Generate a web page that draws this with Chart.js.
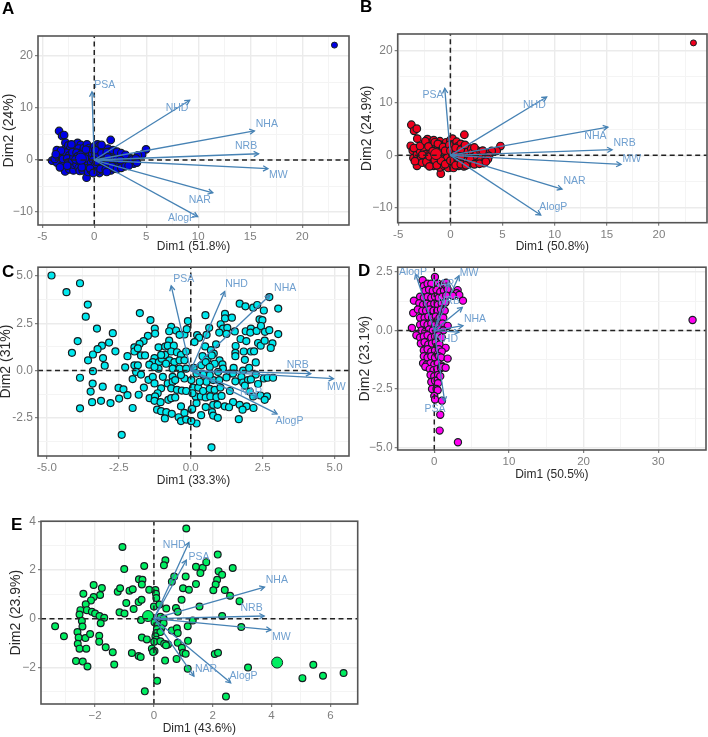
<!DOCTYPE html>
<html>
<head>
<meta charset="utf-8">
<title>PCA biplots</title>
<script src="https://cdn.jsdelivr.net/npm/chart.js@4"></script>
<style>
  html, body { margin: 0; padding: 0; background: #fff; }
  #page { position: relative; width: 708px; height: 737px; overflow: hidden; }
  canvas { position: absolute; filter: blur(0.45px); }
  .tag { position: absolute; font: bold 17px "Liberation Sans", Arial, sans-serif; color: #000; }
</style>
</head>
<body>
<div id="page"></div>
<script>
// variable names, same order as the arrow arrays of each panel
const varNames = ['PSA', 'NHD', 'NHA', 'NRB', 'MW', 'NAR', 'AlogP'];

// panel A
const aPoints = [[-3.38,5.58],[-3.09,4.62],[-2.9,4.8],[-2.77,3.33],[1.58,3.85],[-.74,-3.4],[-4.05,-.13],[4.98,2.05],[4.6,1.03],[4.2,.9],
  [-3.6,1.9],[-3.4,1.2],[-3.5,.6],[-3.3,-.2],[-3.6,-.5],[-3.1,-1],[-2.9,-1.6],[-2.8,-2.2],[-3,.2],[-2.8,2.1],[-2.5,2.8],[-2.3,2.3],[-2.7,1.4],[-2.4,.9],[-2.6,.3],[-2.5,-.5],[-2.3,-1.2],[-2.4,-1.8],[-2,-2],[-2,-.9],[-2.1,-.1],[-2,.6],[-2.1,1.5],[-1.9,2.9],[-1.6,3.3],[-1.3,2.9],[-1.5,2.2],[-1.7,1.4],[-1.6,.7],[-1.5,0],[-1.7,-.8],[-1.5,-1.5],[-1.4,-2.1],[-1.1,-2],[-1.1,-1],[-1,-.3],[-1,.8],[-1.1,1.6],[-1,2.3],[-.7,3],[-.5,2.3],[-.6,1.5],[-.6,.8],[-.7,-.1],[-.6,-.9],[-.7,-1.6],[-.6,-2.3],[-.3,-2],[-.2,-1.2],[-.3,-.4],[-.2,.5],[-.2,1.3],[-.2,2.1],[0,2.6],[.3,3],[.5,2.7],[.7,2.1],[.4,1.6],[.6,.8],[.3,.2],[.4,-.6],[.3,-1.4],[.5,-2.5],[.2,-2.2],[.8,-2],[.9,-1.2],[.9,-.4],[1,.4],[1,1.2],[1,1.9],[1.3,2.2],[1.5,1.6],[1.5,.8],[1.4,0],[1.5,-.8],[1.4,-1.5],[1.6,-2],[1.9,-1.6],[2,-.8],[1.9,-.1],[2,.7],[1.9,1.3],[2.3,1],[2.4,.3],[2.4,-.5],[2.3,-1.2],[2.7,-1],[2.8,-.3],[2.8,.5],[3.1,.7],[3.2,0],[3.2,-.7],[3.5,-.4],[3.5,.3],[3.9,-.2],[3.8,-.7],[.1,.9],[-.1,0],[.1,-.8],[1.2,-.9],[1.7,.2],[2.2,.1],
  [-3.8,.2],[-3.2,1.8],[-3.7,1.1],[-3.3,-1.4],[-2.2,3],[-2.6,-1.1],[-1.8,.1],[-1.3,1],[-1.3,-.4],[-1.2,-1.4],[-.8,2],[-.9,.3],[-.4,-1.6],[-.1,-2.5],[.1,1.9],[.2,-.3],[.7,2.9],[.7,1.3],[.6,-1.7],[1.1,-1.8],[1.2,1.5],[1.3,.5],[1.7,-1.2],[1.8,1.9],[2.2,1.6],[2.2,-1.7],[2.6,1.3],[2.6,-1.5],[3,-1.2],[3,1],[3.3,-1.1],[3.7,.1],[4,.3],[4.1,-.5],[2.5,0],[1.2,-2.3]];
const aMean = [[-1.29,.26]];
const aFar = [[23.1,22.1]];
const aArrows = [[-.22,13.1],[9.18,11.5],[15.4,5.6],[15.8,1.2],[16.7,-1.67],[11.4,-6.3],[9.95,-10.9]];
const aLabelAt = [[1,14.4],[7.96,10.06],[16.6,6.9],[14.6,2.7],[17.7,-2.95],[10.15,-7.7],[8.45,-11.2]];
const aXTicks = [-5,0,5,10,15,20];
const aYTicks = [-10,0,10,20];
const aXLabels = ['-5','0','5','10','15','20'];
const aYLabels = ['\u221210','0','10','20'];

// panel B
const bPoints = [[-3.74,5.85],[-3.48,4.7],[-3.22,5.1],[-3.17,3.2],[1.34,3.94],[-.92,-3.5],[4.8,1.78],[4.44,.85],[3.96,.85],
  [-3.8,1.83],[-3.54,-.5],[-3.2,-2],[-3.6,.9],[-3.3,1.4],[-3.2,.2],[-3.1,-1],[-2.9,.8],[-2.8,-.4],[-2.7,-1.4],[-2.5,2.1],[-2.5,1.2],[-2.4,.2],[-2.2,-.8],[-2.2,-1.7],[-2.2,3.1],[-2,2.4],[-1.9,1.2],[-1.9,.4],[-1.8,-.4],[-1.7,-1.3],[-1.6,-2],[-1.6,2.9],[-1.4,1.8],[-1.3,1],[-1.2,-.7],[-1.1,-1.5],[-1,-2.3],[-1,2.7],[-.9,2],[-.8,1],[-.8,.2],[-.7,-.5],[-.6,-1.2],[-.6,-2],[-.4,2.5],[-.4,1.4],[-.3,.5],[-.3,-.3],[-.2,-1.5],[-.2,-2.4],[0,2.9],[.2,3.2],[.2,2.1],[.3,1.1],[.2,.2],[.3,-.8],[.2,-1.7],[.3,-2.4],[.6,2.6],[.7,1.7],[.8,.8],[.7,-.2],[.8,-1.2],[.8,-2],[1,2.2],[1.2,1.4],[1.2,.4],[1.2,-.6],[1.2,-1.5],[1.3,-2.1],[1.6,1.6],[1.6,.8],[1.7,-.1],[1.6,-1],[1.7,-1.7],[2,1.3],[2.1,.5],[2.1,-.4],[2,-1.3],[2.5,1],[2.5,.2],[2.4,-.7],[2.6,-1.4],[2.9,.7],[3,-.1],[2.9,-.9],[3.2,-1.5],[3.4,.4],[3.4,-.5],[3.7,-.1],[3.6,-.7],
  [-3.5,1.4],[-3.4,-1.1],[-2.9,1.8],[-2.7,.1],[-2.4,2.7],[-2.3,-1.2],[-2.1,1.7],[-2,-.2],[-2,-2.1],[-1.7,.8],[-1.5,2.5],[-1.5,-.9],[-1.3,-1.9],[-1.2,2.2],[-1,.5],[-.9,-1],[-.7,1.6],[-.5,-1.7],[-.5,.9],[-.1,2],[0,-1],[0,.9],[.5,-1.9],[.5,.3],[.5,1.4],[1,1.1],[1,-.2],[1,-1.7],[1.4,2],[1.5,-1.9],[1.9,-.8],[2.3,-1.7],[2.3,1.5],[2.8,-1.6],[3.1,.9],[3.4,-1.2]];
const bMean = [[-1.37,.25]];
const bFar = [[23.3,21.5]];
const bArrows = [[-.54,12.8],[9.23,11.15],[15.1,5.4],[15.5,1.08],[16.36,-1.72],[10.7,-6.43],[8.66,-11.4]];
const bLabelAt = [[-1.66,11.5],[8.05,9.55],[13.9,3.76],[16.7,2.42],[17.4,-.64],[11.9,-4.97],[9.87,-9.87]];
const bXTicks = [-5,0,5,10,15,20];
const bYTicks = [-10,0,10,20];
const bXLabels = ['-5','0','5','10','15','20'];
const bYLabels = ['\u221210','0','10','20'];

// panel C
const cPoints = [[-4.84,5.03],[-3.85,4.62],[-4.32,4.15],[-3.58,3.49],[-3.65,2.85],[-3.26,2.22],[-2.71,1.98],[-3.93,1.56],[-2.84,1.48],[-3.09,1.32],[-3.24,1.13],[-3.4,.85],[-2.62,1.02],[-4.13,.94],[-3.57,.54],[-3.05,.66],[-2.99,.26],[-2.2,.76],[-2.28,.17],[-3.4,-.03],[-3.85,-.38],[-3.41,-.69],[-3.06,-.85],[-3.48,-1.11],[-3.43,-1.67],[-3.12,-1.6],[-2.79,-1.72],[-3.85,-2],[-2.51,-.92],[-2.34,-.99],[-2.2,-1.3],[-2.49,-1.48],[-2.02,-1.98],[-2.4,-3.4],[-1.77,3.04],[-1.4,2.67],[-1.25,2.22],[-1.24,1.96],[-.68,2.31],[-.75,2.08],[-.51,2.12],[-.22,1.91],[-.39,1.89],[-.1,2.62],[-.14,2.19],[-1.49,1.84],[-1.64,1.56],[-1.78,1.41],[-1.96,1.23],[-1.96,1.01],[-1.84,1.18],[-1.73,.8],[-1.59,.8],[-1.96,.28],[-1.84,.28],[-1.12,1.23],[-.89,1.27],[-.75,1.58],[-.8,1.32],[-.59,1.32],[-1.26,.66],[-1.32,.45],[-1.44,.31],[-1.11,.45],[-1.01,.63],[-.89,.83],[-1.03,.83],[-.68,1.01],[-.48,.97],[-.34,.83],[-.16,1.01],[-.74,.54],[-.57,.45],[-.39,.54],[-.22,.54],[-.86,.36],[-1.12,.1],[-1.26,.19],[-.63,.1],[-.39,.1],[-.16,.1],[-1.9,-.07],[-1.73,-.21],[-2.02,-.45],[-1.47,-.49],[-1.32,-.33],[-1.26,-.68],[-.97,-.33],[-.63,-.33],[-.22,-.42],[-.34,-.24],[-.8,-.68],[-.63,-.59],[-.54,-.5],[-.68,-.94],[-.48,-1.02],[-.31,-1.06],[-.16,-1.08],[-1.03,-.94],[-1.15,-1.2],[-1.63,-.9],[-1.81,-1.28],[-1.43,-1.46],[-1.24,-1.37],[-1.26,-1.6],[-1.05,-1.67],[-.78,-1.55],[-.68,-1.46],[-.54,-1.42],[-1.17,-2.07],[-1.03,-2.15],[-.85,-2.2],[-.66,-2.29],[-.9,-2.53],[-.34,-1.89],[-.22,-2.24],[-.42,-2.47],[-.34,-2.67],[-.16,-2.59],[.01,-2.67],[.03,-2.07],[.2,-2.8],
  [.51,2.93],[1.7,3.54],[1.9,3.4],[2.17,3.33],[2.31,3.47],[2.54,3.18],[3.04,3.28],[2.73,3.89],[1.19,3],[1.19,2.76],[1.43,2.8],[1.04,2.45],[.64,2.26],[1.12,2.22],[1.27,2.26],[.99,2.01],[1.24,1.94],[1.53,2.07],[.55,1.89],[.22,1.88],[.29,1.74],[.13,1.51],[.88,1.39],[1.73,1.67],[1.91,2.08],[2.09,2.22],[2.07,2.01],[2.29,2.1],[2.39,2.71],[2.49,2.67],[2.44,2.36],[2.58,2.05],[2.73,2.14],[3.04,1.93],[1.93,1.56],[2.34,1.46],[2.43,1.32],[2.57,1.58],[2.84,1.44],[2.78,1.2],[1.56,1.3],[1.55,.94],[1.55,.76],[1.84,1.01],[2.09,1.01],[2.2,1.02],[1.88,.57],[2.26,.43],[.5,1.28],[.7,1.08],[.8,.9],[.41,.76],[.58,.59],[.73,.8],[1,.54],[1.1,.33],[1.12,.1],[.37,.28],[.52,.45],[.83,.36],[.66,.19],[.1,.14],[1.49,.14],[1.82,0],[2.03,.14],[1.36,-.16],[1.47,-.16],[2.26,-.21],[1.24,-.36],[1.55,-.57],[1.76,-.33],[1.82,-.63],[1.99,-.5],[2.09,-.47],[2.54,-.42],[2.67,-.38],[2.86,-.38],[2.34,-.71],[1.88,-.8],[1.36,-1.08],[2.05,-1.11],[2.42,-1.32],[2.65,-1.37],[2.57,-1.55],[2.17,-1.37],[1.47,-1.67],[1.7,-1.81],[1.94,-1.89],[2.18,-1.98],[1.8,-2.07],[1.18,-1.89],[1.33,-1.94],[.78,-1.81],[.93,-1.81],[.52,-1.93],[.74,-2.2],[.78,-2.38],[.94,-2.5],[1.67,-2.57],[.36,-2.36],[.02,-2.67],[.05,-2.03],[.2,-1.72],[.17,-1.37],[.35,-1.37],[.52,-1.42],[.68,-1.37],[.89,-1.41],[1.07,-1.34],[.08,-.9],[.26,-.9],[.43,-1.08],[.66,-.97],[.83,-1.02],[1.03,-.9],[.55,-.59],[.31,-.59],[.78,-.5],[.99,-.5],[.66,-.24],[.43,-.21],[.2,-.16],[.95,-.07],[.72,-4.06],[.02,-.5],[.06,-1.2]];
const cArrows = [[-.68,4.48],[1.18,4.18],[2.75,3.99],[4.17,-.16],[4.96,-.43],[2.34,-1.42],[3,-2.29]];
const cLabelAt = [[-.24,4.84],[1.59,4.57],[3.28,4.36],[3.72,.31],[5.06,-.85],[2.1,-1.15],[3.43,-2.69]];
const cXTicks = [-5,-2.5,0,2.5,5];
const cYTicks = [-2.5,0,2.5,5];
const cXLabels = ['-5.0','-2.5','0.0','2.5','5.0'];
const cYLabels = ['-2.5','0.0','2.5','5.0'];

// panel D
const dPoints = [[-1.56,2.15],[-1.39,1.91],[-.9,2],[-.4,2],[.09,2.29],[.5,2],[.8,1.9],[1.3,2],[1.6,2.05],[-1.2,1.7],[-.7,1.75],[-.2,1.7],[.3,1.75],[.8,1.65],[1.3,1.7],[1.65,1.88],[1.79,1.77],[3.13,1.73],[3,1.6],[3.35,1.52],[3.84,1.28],[2.46,1.49],[-1.9,1.45],[-1.4,1.4],[-.9,1.45],[-.4,1.4],[.1,1.45],[.6,1.4],[1.1,1.45],[1.6,1.5],[-2.73,1.28],[-2.01,1.17],[-1.5,1.1],[-1,1.15],[-.5,1.1],[0,1.15],[.5,1.1],[1,1.15],[1.5,1.2],[-2.82,.75],[-2.2,.9],[-1.6,.85],[-1.1,.85],[-.6,.9],[-.1,.85],[.4,.85],[.9,.9],[1.4,.85],[-1.9,.55],[-1.3,.55],[-.8,.6],[-.3,.55],[.2,.6],[.7,.55],[1.2,.55],[-1.9,.25],[-1.4,.3],[-.9,.25],[-.4,.3],[.1,.25],[.6,.25],[1.1,.3],[1.8,.2],[-3,.11],[-1.7,0],[-1.2,-.05],[-.7,.05],[-.2,0],[.3,-.05],[.8,.05],[1.2,0],[-2.4,-.2],[-1.9,-.3],[-1.4,-.25],[-.9,-.2],[-.4,-.3],[.1,-.25],[.6,-.2],[1,-.3],[-1.8,-.55],[-1.3,-.5],[-.8,-.6],[-.3,-.55],[.2,-.5],[.7,-.6],[1.52,-.74],[-1.4,-.85],[-.9,-.8],[-.4,-.9],[.1,-.85],[.6,-.8],[1,-.9],[-1.4,-1.1],[-.9,-1.15],[-.4,-1.1],[.1,-1.15],[.6,-1.1],[.9,-1.15],[1.79,-1.2],[-1.5,-1.4],[-1,-1.45],[-.5,-1.4],[0,-1.45],[.5,-1.4],[1,-1.5],[-1.2,-1.55],[-.6,-1.65],[-.1,-1.7],[.4,-1.65],[.9,-1.6],[1.07,-1.56],[1.52,-1.59],[-.5,-1.9],[0,-1.95],[.5,-1.9],[.8,-1.95],[-.4,-2.2],[.1,-2.15],[.5,-2.25],[-.3,-2.5],[.3,-2.5],[.45,-2.55],[0,-2.8],[.1,-2.95],[1.03,-3],[.8,-3.6],[.72,-4.28],[3.17,-4.78],[34.6,.45]];
const dArrows = [[1.39,-3.03],[3.31,-.07],[3.84,.21],[3.75,.99],[3.31,2.34],[1.97,2.06],[-2.5,2.41]];
const dLabelAt = [[.09,-3.38],[1.65,-.38],[5.45,.5],[1.97,1.26],[4.65,2.47],[1.2,2],[-2.86,2.48]];
const dXTicks = [0,10,20,30];
const dYTicks = [-5,-2.5,0,2.5];
const dXLabels = ['0','10','20','30'];
const dYLabels = ['\u22125.0','-2.5','0.0','2.5'];

// panel E
const ePoints = [[-3.36,-.31],[-3.06,-.72],[-2.4,1.02],[-2.05,1.38],[-1.77,1.26],[-1.83,.97],[-2.05,.89],[-2.14,.75],[-2.32,.59],[-2.5,.35],[-2.53,.17],[-2.28,.35],[-2.11,.28],[-2,.21],[-1.85,.11],[-1.69,.04],[-2.45,-.09],[-2.43,-.32],[-1.81,-.19],[-2.6,-.55],[-2.56,-.77],[-2.33,-.79],[-2.17,-.63],[-1.86,-.7],[-1.86,-.95],[-2.59,-1.03],[-2.53,-1.23],[-2.3,-1.23],[-1.64,-1.17],[-1.4,-1.38],[-2.65,-1.74],[-2.42,-1.76],[-2.26,-1.96],[-1.35,-1.88],[-1.23,1.11],[-1.15,1.25],[-.83,1.15],[-.72,1.21],[-1.07,2.94],[-1.01,2.04],[-.33,2.16],[-.51,1.62],[-.39,1.6],[-.41,1.4],[-.16,1.19],[.05,1.18],[.07,1.02],[.08,.85],[-.94,.64],[-.52,.68],[-.42,.78],[-.69,.4],[-1.17,.26],[-1,.21],[0,.5],[.19,.58],[.42,.42],[.75,.44],[.81,.28],[.94,.78],[.61,1.52],[.69,1.73],[.39,2.4],[.34,2.19],[1.1,3.7],[1.08,1.73],[.99,1.25],[1.19,1.19],[1.43,2.13],[1.66,2.09],[1.78,2.32],[1.58,1.87],[1.43,1.42],[2.17,2.63],[2.2,1.95],[2.32,1.8],[2.68,2.08],[2.15,1.6],[2.1,1.4],[2.02,1.17],[2.41,1.18],[2.59,.94],[2.91,.72],[1.55,.5],[2.32,.11],[1.32,-.07],[2.97,-.34],[.22,.08],[.33,.01],[.02,-.15],[.14,-.25],[.33,-.19],[.25,-.39],[.1,-.42],[.08,-.59],[.22,-.55],[.05,-.72],[.08,-.86],[.01,-.95],[-.41,-.77],[-.24,-.85],[-.44,-.05],[.61,-.48],[.78,-.39],[.81,-.59],[1.15,-.31],[1.16,-.91],[.22,-.93],[.35,-1.03],[.48,-1.06],[.41,-1.09],[.81,-.99],[.95,-1.19],[.99,-1.4],[1.08,-1.44],[-.07,-1.23],[.02,-1.33],[-.03,-1.37],[-.75,-1.41],[-.52,-1.53],[-.45,-1.57],[.38,-1.72],[.77,-1.65],[1.15,-2.05],[2.07,-1.45],[2.18,-1.4],[3.2,-2],[.11,-2.55],[-.31,-2.98],[2.45,-3.19],[5.05,-2.44],[5.42,-1.89],[5.75,-2.34],[6.45,-2.23]];
const eMean = [[-.2,.11],[4.19,-1.8]];
const eArrows = [[1.1,2.4],[1.19,3.13],[3.76,1.3],[3.75,.11],[3.98,-.46],[1.36,-2.36],[2.61,-2.63]];
const eLabelAt = [[1.53,2.54],[.69,3.02],[4.18,1.6],[3.32,.42],[4.33,-.74],[1.77,-2.07],[3.05,-2.36]];
const eXTicks = [-2,0,2,4,6];
const eYTicks = [-2,0,2,4];
const eXLabels = ['\u22122','0','2','4','6'];
const eYLabels = ['\u22122','0','2','4'];

const FONT = '"Liberation Sans", Arial, sans-serif';
const ARROW = '#4682b4';

// draws frame, arrow heads and variable names, everything through the chart scales
const biplotDecor = {
  id: 'biplotDecor',
  afterDatasetsDraw(chart, args, opts) {
    const { ctx, chartArea: a, scales: { x, y } } = chart;
    ctx.save();
    ctx.strokeStyle = ARROW;
    ctx.lineWidth = 1.3;
    opts.arrows.forEach(t => {
      const px = x.getPixelForValue(t[0]), py = y.getPixelForValue(t[1]);
      const ang = Math.atan2(py - y.getPixelForValue(0), px - x.getPixelForValue(0));
      ctx.beginPath();
      ctx.moveTo(px - 5.5 * Math.cos(ang - 0.5), py - 5.5 * Math.sin(ang - 0.5));
      ctx.lineTo(px, py);
      ctx.lineTo(px - 5.5 * Math.cos(ang + 0.5), py - 5.5 * Math.sin(ang + 0.5));
      ctx.stroke();
    });
    ctx.fillStyle = '#6f9fcf';
    ctx.font = '10.5px ' + FONT;
    ctx.textAlign = 'center';
    ctx.textBaseline = 'middle';
    opts.labelAt.forEach((p, i) => {
      ctx.fillText(varNames[i], x.getPixelForValue(p[0]), y.getPixelForValue(p[1]));
    });
    ctx.strokeStyle = '#555';
    ctx.lineWidth = 1.6;
    ctx.strokeRect(a.left, a.top, a.right - a.left, a.bottom - a.top);
    ctx.restore();
  }
};

function withMinor(ticks, min, max) {
  const step = ticks[1] - ticks[0];
  const all = [];
  for (let v = ticks[0] - step * 2; v <= ticks[ticks.length - 1] + step * 2; v += step / 2) {
    if (v >= min && v <= max) all.push({ value: v });
  }
  return all;
}

function axis(c, ticks, labels, title, min, max, horizontal) {
  const lab = v => {
    const i = ticks.findIndex(t => Math.abs(t - v) < 1e-6);
    return i < 0 ? '' : labels[i];
  };
  const isMajor = v => ticks.some(t => Math.abs(t - v) < 1e-6);
  return {
    type: 'linear', min, max,
    afterBuildTicks: s => { s.ticks = withMinor(ticks, min, max); },
    afterFit: s => {
      if (horizontal) s.height = c.bottom - c.rect[3];
      else s.width = c.rect[0] - c.left;
    },
    ticks: {
      autoSkip: false, maxRotation: 0, minRotation: 0, includeBounds: false,
      color: '#7f7f7f', padding: 2,
      font: { family: FONT, size: horizontal ? 11.5 : 12 },
      callback: lab
    },
    grid: {
      color: t => isMajor(t.tick.value) ? '#ebebeb' : '#f4f4f4',
      lineWidth: t => isMajor(t.tick.value) ? 1.4 : 1,
      tickColor: t => isMajor(t.tick.value) ? '#666' : 'rgba(0,0,0,0)',
      tickLength: 3, tickWidth: 1
    },
    border: { display: false },
    title: {
      display: true, text: title, color: '#2a2a2a', padding: 0,
      font: { family: FONT, size: horizontal ? 12 : 14 }
    }
  };
}

function panel(c) {
  const cv = document.createElement('canvas');
  cv.width = c.right - c.left;
  cv.height = c.bottom - c.top;
  cv.style.left = c.left + 'px';
  cv.style.top = c.top + 'px';
  document.getElementById('page').appendChild(cv);

  const pts = arr => arr.map(p => ({ x: p[0], y: p[1] }));
  const datasets = [];
  c.arrows.forEach(t => datasets.push({
    data: pts([[0, 0], t]), showLine: true, pointRadius: 0,
    borderColor: ARROW, borderWidth: 1.3, order: 0
  }));
  const zero = (a, b) => ({
    data: pts([a, b]), showLine: true, pointRadius: 0,
    borderColor: '#222', borderWidth: 1.5, borderDash: [5, 3.5], order: 1
  });
  datasets.push(zero([c.xMin, 0], [c.xMax, 0]), zero([0, c.yMin], [0, c.yMax]));
  datasets.push({
    data: pts(c.points), backgroundColor: c.color, borderColor: '#161e22',
    borderWidth: 1.2, pointRadius: c.r, order: 3
  });
  if (c.far) datasets.push({
    data: pts(c.far), backgroundColor: c.color, borderColor: '#161e22',
    borderWidth: 1, pointRadius: 3, order: 3
  });
  if (c.mean) datasets.push({
    data: pts(c.mean), backgroundColor: c.color, borderColor: '#161e22',
    borderWidth: 1, pointRadius: 5.5, order: 2
  });

  new Chart(cv, {
    type: 'scatter',
    data: { datasets },
    options: {
      responsive: false, animation: false, events: [],
      layout: {
        autoPadding: false,
        padding: { top: c.rect[1] - c.top, right: c.right - c.rect[2], left: 0, bottom: 0 }
      },
      plugins: {
        legend: { display: false }, tooltip: { enabled: false },
        biplotDecor: { arrows: c.arrows, labelAt: c.labelAt }
      },
      scales: {
        x: axis(c, c.xTicks, c.xLabels, c.xTitle, c.xMin, c.xMax, true),
        y: axis(c, c.yTicks, c.yLabels, c.yTitle, c.yMin, c.yMax, false)
      }
    },
    plugins: [biplotDecor]
  });

  const tag = document.createElement('div');
  tag.className = 'tag';
  tag.textContent = c.tag[0];
  tag.style.left = c.tag[1] + 'px';
  tag.style.top = c.tag[2] + 'px';
  document.getElementById('page').appendChild(tag);
}

panel({ tag: ['A', 2, -1], left: 1, top: 20, right: 352, bottom: 254, rect: [38, 36, 349, 225],
  xMin: -5.41, xMax: 24.5, yMin: -12.5, yMax: 23.85, color: '#0000e6', r: 3.8, points: aPoints, mean: aMean, far: aFar,
  arrows: aArrows, labelAt: aLabelAt, xTicks: aXTicks, yTicks: aYTicks, xLabels: aXLabels, yLabels: aYLabels,
  xTitle: 'Dim1 (51.8%)', yTitle: 'Dim2 (24%)' });
panel({ tag: ['B', 360, -3], left: 359, top: 20, right: 708, bottom: 254, rect: [397.7, 34, 707, 222.7],
  xMin: -5.05, xMax: 24.6, yMin: -12.87, yMax: 23.2, color: '#f0001e', r: 3.8, points: bPoints, mean: bMean, far: bFar,
  arrows: bArrows, labelAt: bLabelAt, xTicks: bXTicks, yTicks: bYTicks, xLabels: bXLabels, yLabels: bYLabels,
  xTitle: 'Dim1 (50.8%)', yTitle: 'Dim2 (24.9%)' });
panel({ tag: ['C', 2, 262], left: -2, top: 258, right: 352, bottom: 488, rect: [38, 264, 349, 456],
  xMin: -5.31, xMax: 5.5, yMin: -4.52, yMax: 5.47, color: '#00e8ee', r: 3.5, points: cPoints,
  arrows: cArrows, labelAt: cLabelAt, xTicks: cXTicks, yTicks: cYTicks, xLabels: cXLabels, yLabels: cYLabels,
  xTitle: 'Dim1 (33.3%)', yTitle: 'Dim2 (31%)' });
panel({ tag: ['D', 358, 261], left: 357, top: 258, right: 708, bottom: 482, rect: [397.7, 263, 706, 450],
  xMin: -4.9, xMax: 36.4, yMin: -5.11, yMax: 2.71, color: '#ff00f0', r: 3.6, points: dPoints,
  arrows: dArrows, labelAt: dLabelAt, xTicks: dXTicks, yTicks: dYTicks, xLabels: dXLabels, yLabels: dYLabels,
  xTitle: 'Dim1 (50.5%)', yTitle: 'Dim2 (23.1%)' });
panel({ tag: ['E', 11, 515], left: 8, top: 512, right: 360, bottom: 736, rect: [41, 517.5, 357.7, 704],
  xMin: -3.84, xMax: 6.93, yMin: -3.5, yMax: 4, color: '#00ee60', r: 3.4, points: ePoints, mean: eMean,
  arrows: eArrows, labelAt: eLabelAt, xTicks: eXTicks, yTicks: eYTicks, xLabels: eXLabels, yLabels: eYLabels,
  xTitle: 'Dim1 (43.6%)', yTitle: 'Dim2 (23.9%)' });
</script>
</body>
</html>
